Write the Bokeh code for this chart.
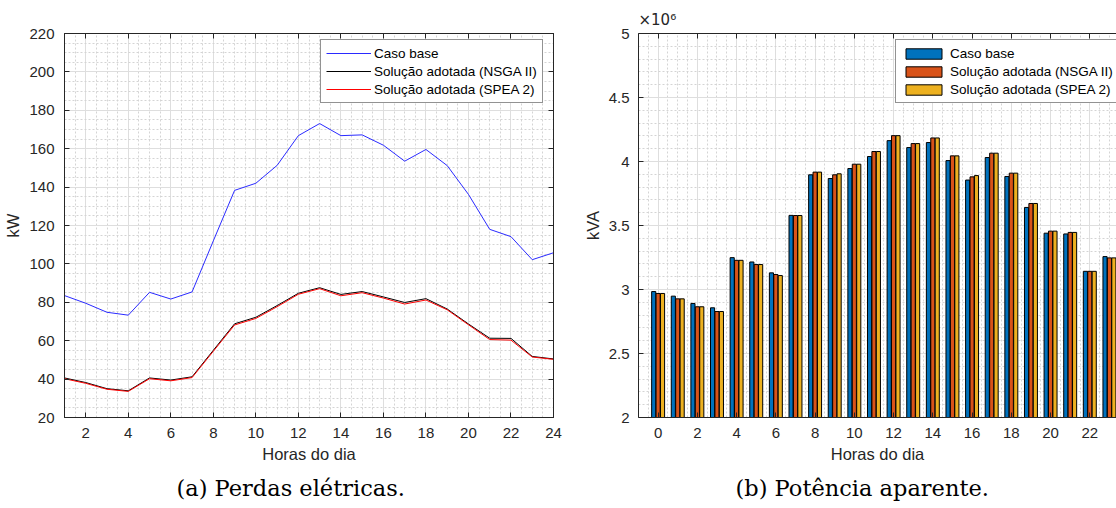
import numpy as np
from bokeh.plotting import figure
from bokeh.models import (FixedTicker, LinearAxis, Legend, LegendItem, Title, Range1d,
                          CustomLabelingPolicy)
from bokeh.layouts import row
from bokeh.transform import dodge
from bokeh.embed import file_html
from bokeh.resources import INLINE

# ---------------- data ----------------
# (a) electrical losses per hour, kW
hours_losses = list(range(1, 25))
caso_base_kw = [83.5, 79.5, 74.8, 73.3, 85.2, 81.7, 85.4, 112.0, 138.3, 142.0, 151.3, 166.8,
                173.1, 166.8, 167.2, 161.8, 153.5, 159.6, 151.2, 136.2, 118.0, 114.2, 102.2, 105.8]
nsga_kw = [40.6, 38.2, 35.0, 33.9, 40.6, 39.5, 41.2, 55.0, 68.8, 72.2, 78.3, 84.7,
           87.6, 84.1, 85.6, 82.8, 79.9, 81.9, 76.5, 68.7, 61.3, 61.2, 51.8, 50.5]
spea_kw = [40.2, 37.8, 34.7, 33.6, 40.2, 39.1, 40.8, 54.5, 68.2, 71.6, 77.7, 84.2,
           87.1, 83.4, 85.0, 82.2, 79.1, 81.2, 76.1, 68.3, 60.6, 60.3, 51.5, 50.3]

# (b) apparent power per hour, in units of 10^6 kVA
hours_power = list(range(0, 24))
caso_base_kva = [2.984, 2.948, 2.891, 2.857, 3.249, 3.215, 3.130, 3.579, 3.896, 3.867, 3.945, 4.039,
                 4.163, 4.109, 4.148, 4.007, 3.855, 4.031, 3.883, 3.641, 3.440, 3.434, 3.142, 3.257]
nsga_kva = [2.969, 2.927, 2.865, 2.828, 3.228, 3.195, 3.117, 3.578, 3.917, 3.896, 3.979, 4.078,
            4.202, 4.140, 4.184, 4.044, 3.880, 4.065, 3.909, 3.672, 3.456, 3.446, 3.142, 3.247]
spea_kva = [2.969, 2.927, 2.865, 2.828, 3.228, 3.195, 3.109, 3.578, 3.917, 3.904, 3.979, 4.078,
            4.202, 4.140, 4.184, 4.044, 3.890, 4.065, 3.909, 3.672, 3.456, 3.446, 3.142, 3.247]
SCALE = 1e6

series_names = ["Caso base", "Solução adotada (NSGA II)", "Solução adotada (SPEA 2)"]

# ---------------- style ----------------
AX = "#262626"
SANS = "Liberation Sans"
SERIF = "DejaVu Serif"
TICK_FS = "15px"
LABEL_FS = "16.5px"
GRID = "#dedede"
MINOR = "#d4d4d4"


def style_main_axis(ax, label, standoff, label_standoff):
    ax.axis_label = label
    ax.axis_label_text_font = SANS
    ax.axis_label_text_font_size = LABEL_FS
    ax.axis_label_text_font_style = "normal"
    ax.axis_label_text_color = AX
    ax.axis_label_standoff = label_standoff
    ax.major_label_text_font = SANS
    ax.major_label_text_font_size = TICK_FS
    ax.major_label_text_color = AX
    ax.major_label_standoff = standoff
    ax.major_tick_in = 5
    ax.major_tick_out = 0
    ax.major_tick_line_color = AX
    ax.minor_tick_line_color = None
    ax.axis_line_color = AX


# tick marks only (no labels) for the opposite sides of the box
NO_LABELS = CustomLabelingPolicy(code="""
const n = indices.size;
for (let i = 0; i < n; i++) indices.unset(i);
return indices;
""")


def mirror_axis(ticker):
    return LinearAxis(ticker=ticker, major_label_policy=NO_LABELS,
                      major_label_text_font_size="0px", axis_label_standoff=0,
                      major_label_standoff=0, major_tick_in=5, major_tick_out=0,
                      major_tick_line_color=AX, minor_tick_line_color=None,
                      axis_line_color=AX)


def style_grid(p, xt, yt):
    for g, t in ((p.xgrid, xt), (p.ygrid, yt)):
        g.ticker = t
        g.grid_line_color = GRID
        g.grid_line_width = 1
        g.minor_grid_line_color = MINOR
        g.minor_grid_line_dash = "2 2"
        g.minor_grid_line_width = 1


# ---------------- (a) losses ----------------
xt1 = FixedTicker(ticks=list(range(2, 25, 2)), minor_ticks=list(np.arange(1, 24.01, 0.5)))
yt1 = FixedTicker(ticks=list(range(20, 221, 20)), minor_ticks=list(range(20, 221, 5)))

p1 = figure(width=568, height=508, x_range=Range1d(1, 24), y_range=Range1d(20, 220),
            output_backend="svg", toolbar_location=None,
            min_border_left=64, min_border_right=15, min_border_top=33, min_border_bottom=91)
p1.outline_line_color = AX
p1.outline_line_width = 1
p1.xaxis[0].ticker = xt1
p1.yaxis[0].ticker = yt1
style_main_axis(p1.xaxis[0], "Horas do dia", 6, 4)
style_main_axis(p1.yaxis[0], "kW", 6, 4)
p1.add_layout(mirror_axis(xt1), "above")
p1.add_layout(mirror_axis(yt1), "right")
style_grid(p1, xt1, yt1)

r_base = p1.line(hours_losses, caso_base_kw, line_color="#2a2aff", line_width=1)
r_nsga = p1.line(hours_losses, nsga_kw, line_color="#000000", line_width=1)
r_spea = p1.line(hours_losses, spea_kw, line_color="#ff0000", line_width=1)

leg1 = Legend(items=[LegendItem(label=series_names[0], renderers=[r_base]),
                     LegendItem(label=series_names[1], renderers=[r_nsga]),
                     LegendItem(label=series_names[2], renderers=[r_spea])],
              location=(256, 314), glyph_width=45, glyph_height=16, label_height=16,
              spacing=2, padding=5, margin=0, label_standoff=3,
              label_text_font=SANS, label_text_font_size="13.5px", label_text_color="#000000",
              border_line_color=AX, border_line_width=1, background_fill_color="white",
              background_fill_alpha=1)
p1.add_layout(leg1, "center")

p1.add_layout(Title(text="(a)  Perdas elétricas.", align="left", offset=112,
                    text_font=SERIF, text_font_size="22.5px", text_font_style="normal",
                    text_color="#000000", standoff=14), "below")

# ---------------- (b) apparent power ----------------
xt2 = FixedTicker(ticks=list(range(0, 23, 2)), minor_ticks=list(np.arange(-1, 24.01, 0.5)))
yt2_major = [2.0, 2.5, 3.0, 3.5, 4.0, 4.5, 5.0]
yt2 = FixedTicker(ticks=[v * SCALE for v in yt2_major],
                  minor_ticks=[v * SCALE for v in np.arange(2.0, 5.001, 0.1)])

p2 = figure(width=548, height=508, x_range=Range1d(-1, 23.36), y_range=Range1d(2 * SCALE, 5 * SCALE),
            output_backend="svg", toolbar_location=None,
            min_border_left=70, min_border_right=0, min_border_top=32, min_border_bottom=91)
p2.outline_line_color = None
p2.xaxis[0].ticker = xt2
p2.yaxis[0].ticker = yt2
p2.yaxis[0].major_label_overrides = {v * SCALE: f"{v:g}" for v in yt2_major}
style_main_axis(p2.xaxis[0], "Horas do dia", 6, 4)
style_main_axis(p2.yaxis[0], "kVA", 5, 4)
p2.add_layout(mirror_axis(xt2), "above")
style_grid(p2, xt2, yt2)

src = dict(h=hours_power,
           base=[v * SCALE for v in caso_base_kva],
           nsga=[v * SCALE for v in nsga_kva],
           spea=[v * SCALE for v in spea_kva])
BAR_W = 0.21
bar_colors = ["#0072BD", "#D95319", "#EDB120"]
bars = []
for key, off, col in zip(["base", "nsga", "spea"], [-0.225, 0.0, 0.225], bar_colors):
    bars.append(p2.vbar(x=dodge("h", off), top=key, bottom=2 * SCALE, width=BAR_W, source=src,
                        fill_color=col, line_color="#000000", line_width=1))

leg2 = Legend(items=[LegendItem(label=n, renderers=[b]) for n, b in zip(series_names, bars)],
              location=(257, 314), glyph_width=45, glyph_height=13, label_height=16,
              spacing=2, padding=5, margin=0, label_standoff=4,
              label_text_font=SANS, label_text_font_size="13.5px", label_text_color="#000000",
              border_line_color=AX, border_line_width=1, background_fill_color="white",
              background_fill_alpha=1)
p2.add_layout(leg2, "center")

# axis exponent above the top-left corner of the box
p2.title = Title(text="×10⁶", align="left", offset=0, text_font="DejaVu Sans",
                 text_font_size="15px", text_font_style="normal", text_color=AX, standoff=2)

p2.add_layout(Title(text="(b)  Potência aparente.", align="left", offset=97,
                    text_font=SERIF, text_font_size="22.5px", text_font_style="normal",
                    text_color="#000000", standoff=14), "below")

layout = row(p1, p2, spacing=0)
open("out.html", "w").write(file_html(layout, INLINE))
